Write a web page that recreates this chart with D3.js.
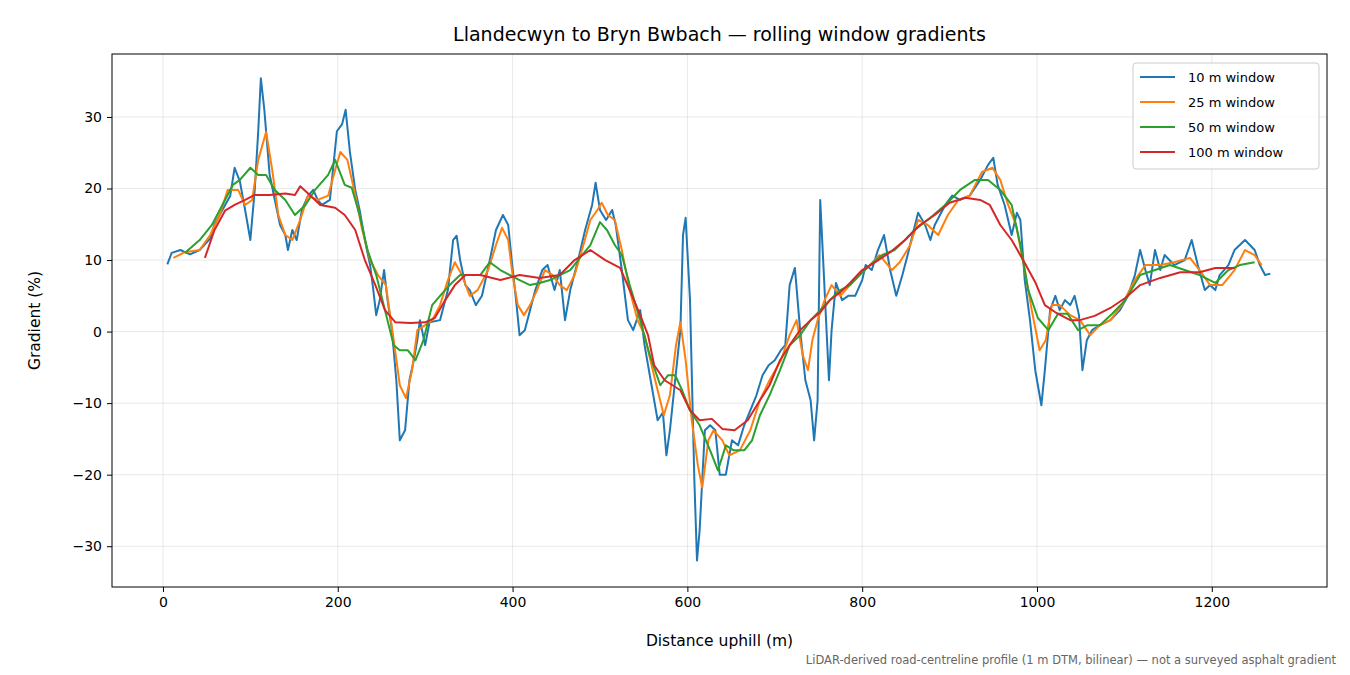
<!DOCTYPE html>
<html>
<head>
<meta charset="utf-8">
<script src="https://cdn.jsdelivr.net/npm/d3@7"></script>
<style>
  body { margin: 0; background: #fff; }
  svg { font-family: "DejaVu Sans", sans-serif; }
</style>
</head>
<body>
<svg id="chart" width="1350" height="675"></svg>
<script>
// gradient (%) against distance uphill (m), one array per rolling window
var win10 = [[5,9.4],[10,11],[20,11.4],[31,10.8],[42,11.4],[54,13],[59,15],[68,17],[77,19],[82,22.9],[88,21],[94,17],[100,12.8],[105,19.8],[109,28],[112,35.4],[116,31],[120,25],[122,22],[128,18.4],[134,14.9],[140,13.5],[143,11.4],[148,14.2],[153,12.8],[159,17],[166,19],[172,19.8],[177,18.4],[182,17.7],[191,18.4],[199,28],[205,29],[209,31],[214,25],[220,19.8],[225,17],[231,12.8],[237,9.3],[240,6.5],[244,2.3],[248,4.4],[253,8.6],[257,4.4],[262,0.2],[267,-6.8],[271,-15.2],[277,-13.8],[282,-6.8],[287,-4],[291,-1.2],[294,1.6],[300,-1.9],[305,1.3],[317,1.6],[326,5.8],[332,12.8],[336,13.4],[340,10],[346,6.5],[351,5.8],[358,3.7],[365,5],[374,10],[381,14.2],[389,16.3],[395,14.9],[399,10],[404,4.4],[408,-0.5],[414,0.2],[420,3],[426,5.8],[434,8.6],[440,9.3],[448,5.8],[454,8.6],[460,1.6],[466,5.8],[475,10],[483,14.2],[491,17.7],[495,20.8],[500,17],[507,15.6],[514,17],[518,14.9],[525,8.6],[532,1.6],[538,0.2],[546,3],[551,-1.9],[559,-7.5],[566,-12.4],[572,-11.3],[576,-17.3],[580,-13.8],[586,-6.8],[592,0.2],[595,13.5],[598,15.9],[603,4.4],[608,-20.8],[611,-32],[614,-27.8],[620,-13.8],[626,-13.1],[632,-13.8],[637,-20],[644,-20],[651,-15.2],[658,-15.9],[665,-13.1],[672,-11],[679,-8.9],[686,-6.1],[693,-4.7],[700,-4],[707,-2.6],[712,-1.9],[717,6.5],[723,8.9],[729,0.2],[735,-6.8],[741,-9.6],[745,-15.2],[749,-9.6],[752,18.4],[757,5.8],[762,-6.8],[765,0.2],[770,6.8],[777,4.4],[784,5],[792,5],[800,7.2],[804,9.3],[811,8.6],[818,11.4],[825,13.5],[832,8.6],[839,5],[846,7.9],[852,10.7],[859,14.2],[864,16.6],[872,14.9],[878,12.8],[883,14.9],[889,16.3],[895,17.7],[903,19],[912,18.4],[923,19],[935,21.2],[944,23.3],[950,24.3],[955,20.5],[963,17.7],[971,13.5],[977,16.6],[981,15.6],[986,7.2],[992,1.6],[998,-5.4],[1005,-10.3],[1009,-5.4],[1015,3],[1021,5],[1026,3],[1032,4.4],[1038,3.7],[1043,5],[1048,2.3],[1052,-5.4],[1057,-1.2],[1063,0.2],[1072,0.9],[1084,1.6],[1095,3],[1104,5],[1112,7.9],[1118,11.4],[1124,8.6],[1129,6.5],[1135,11.4],[1141,8.6],[1146,10.7],[1157,9.3],[1169,10],[1177,12.8],[1184,9.3],[1192,5.8],[1198,6.5],[1204,5.8],[1209,7.9],[1219,9.3],[1226,11.4],[1238,12.8],[1249,11.4],[1255,9.3],[1261,7.9],[1267,8.1]];

var win25 = [[12,10.3],[25,11.1],[42,11.4],[54,13.5],[65,16.3],[74,19.8],[86,19.8],[94,17.7],[102,18.4],[109,24],[118,27.9],[125,22.6],[132,16.3],[140,13.5],[148,12.8],[157,15.6],[166,19],[177,18.4],[189,19],[197,22.6],[203,25.1],[211,24],[220,19.1],[228,14.2],[237,10],[246,7.9],[255,6.5],[264,-1.2],[271,-7.5],[278,-9.3],[285,-5.4],[291,0.2],[300,0.9],[308,1.6],[317,3.7],[326,7.2],[334,9.7],[342,7.9],[351,5],[360,5.8],[372,8.6],[381,12.1],[388,14.5],[395,12.8],[400,7.9],[406,3.7],[413,2.3],[420,3.7],[428,5.8],[437,8.6],[446,7.9],[454,6.5],[462,5.8],[471,7.9],[481,12.1],[489,15.6],[497,17],[502,18],[509,16.3],[517,15.6],[525,11.4],[534,5.8],[543,1.6],[551,-0.5],[559,-4.7],[566,-8.2],[573,-11.7],[580,-8.9],[587,-1.9],[592,1.3],[598,-4],[605,-12.4],[612,-18.7],[617,-21.8],[624,-15.2],[630,-13.8],[640,-15.2],[648,-17.3],[660,-16.6],[672,-13.8],[683,-9.6],[694,-6.8],[707,-4],[717,-0.5],[725,1.6],[732,-3.3],[738,-5.4],[743,-1.2],[749,1.6],[757,4.4],[765,6.5],[775,5],[786,6.5],[797,7.9],[809,9.3],[820,10.7],[834,8.6],[843,9.7],[855,12.1],[864,15.6],[875,14.9],[887,13.5],[898,16.3],[910,18.4],[923,19],[937,22.3],[949,22.9],[958,21.2],[967,17.7],[976,14.9],[986,8.6],[994,3],[1003,-2.6],[1010,-1.2],[1017,3.7],[1026,3.7],[1038,2.3],[1049,1.6],[1061,-0.5],[1072,0.9],[1084,1.6],[1097,3.7],[1112,7.2],[1124,9.3],[1141,9.3],[1157,9.7],[1175,10.3],[1186,8.6],[1198,6.5],[1212,6.5],[1226,8.6],[1238,11.4],[1249,10.7],[1257,9.3]];

var win50 = [[25,11],[42,12.8],[56,14.9],[68,17.7],[80,20.5],[88,21.2],[100,22.9],[109,21.9],[118,21.9],[128,19.8],[140,18.4],[151,16.3],[163,17.7],[174,19.8],[189,21.9],[197,24],[208,20.5],[216,20.1],[225,16.3],[234,11.4],[244,7.9],[254,3],[264,-1.9],[271,-2.6],[280,-2.6],[289,-4],[298,-1.2],[308,3.7],[317,5],[328,6.5],[340,7.9],[351,7.9],[363,7.9],[374,9.7],[386,8.6],[397,7.9],[408,7.2],[420,6.5],[431,6.8],[443,7.2],[454,7.9],[466,8.6],[477,10.3],[489,12.1],[500,15.3],[508,14.2],[517,12.1],[525,10.7],[534,6.5],[546,1.6],[557,-3.3],[569,-7.5],[578,-6.1],[586,-6.1],[594,-8.2],[603,-11],[614,-13.1],[626,-16.6],[635,-19.4],[644,-15.9],[653,-16.6],[665,-16.6],[674,-15.2],[683,-11.7],[694,-8.9],[706,-5.4],[717,-1.9],[729,-0.5],[741,1.6],[752,3],[763,4.4],[775,5.8],[786,6.5],[797,7.9],[809,9.3],[823,10.7],[837,11.4],[849,12.8],[860,14.2],[878,15.9],[895,17.7],[912,19.8],[929,21.2],[944,21.2],[958,19.8],[971,17.7],[981,12.1],[990,5.8],[1001,1.9],[1013,0.2],[1024,2.5],[1035,2.5],[1047,0.2],[1058,0.9],[1072,0.9],[1086,2.5],[1101,4.4],[1118,7.9],[1135,8.6],[1152,9.3],[1169,8.6],[1186,7.9],[1204,6.8],[1219,8.6],[1232,9.3],[1249,9.7]];

var win100 = [[48,10.3],[59,14.2],[71,16.9],[82,17.7],[94,18.4],[105,19.1],[122,19.1],[140,19.3],[151,19.1],[157,20.3],[168,19.1],[180,17.7],[197,17.3],[208,16.3],[220,14.2],[231,10],[243,6.5],[254,3],[266,1.3],[283,1.2],[300,1.3],[311,1.9],[323,4.4],[334,6.5],[346,7.9],[363,7.9],[386,7.2],[408,7.9],[431,7.5],[454,7.9],[471,10],[489,11.4],[506,10],[523,8.9],[534,5.8],[546,2.3],[555,-0.5],[562,-4.7],[574,-6.8],[592,-8.2],[603,-11],[614,-12.4],[628,-12.2],[640,-13.6],[654,-13.8],[669,-12.4],[683,-9.6],[694,-7.5],[706,-4],[717,-1.9],[729,0.2],[741,1.6],[752,2.7],[763,4.4],[775,5.5],[786,6.8],[800,8.6],[815,9.7],[832,11.1],[849,12.8],[866,14.9],[883,16.3],[900,18],[918,18.7],[935,18.4],[946,17.7],[958,14.9],[971,12.8],[986,9.6],[998,6.9],[1009,3.7],[1021,2.7],[1038,1.6],[1049,1.6],[1066,2.2],[1084,3.3],[1101,4.7],[1118,6.5],[1141,7.5],[1164,8.3],[1186,8.3],[1204,8.9],[1226,8.9]];

var seriesNames = ["10 m window", "25 m window", "50 m window", "100 m window"];
var seriesColors = ["#1f77b4", "#ff7f0e", "#2ca02c", "#d62728"];
var allSeries = [win10, win25, win50, win100];

var xTicks = [0, 200, 400, 600, 800, 1000, 1200];
var yTicks = [-30, -20, -10, 0, 10, 20, 30];

var mLeft = 112, mRight = 1327, mTop = 54, mBottom = 587;
var svg = d3.select("#chart");

var x = d3.scaleLinear().domain([-58.3, 1331.8]).range([mLeft, mRight]);
var y = d3.scaleLinear().domain([-35.7, 38.8]).range([mBottom, mTop]);

// grid
svg.append("g").selectAll("line").data(xTicks).enter().append("line")
    .attr("x1", d => x(d)).attr("x2", d => x(d))
    .attr("y1", mTop).attr("y2", mBottom)
    .attr("stroke", "#b0b0b0").attr("stroke-opacity", 0.35).attr("stroke-width", 0.8);
svg.append("g").selectAll("line").data(yTicks).enter().append("line")
    .attr("x1", mLeft).attr("x2", mRight)
    .attr("y1", d => y(d)).attr("y2", d => y(d))
    .attr("stroke", "#b0b0b0").attr("stroke-opacity", 0.35).attr("stroke-width", 0.8);

// lines
var line = d3.line().x(d => x(d[0])).y(d => y(d[1]));
allSeries.forEach(function(s, i) {
    svg.append("path").datum(s)
        .attr("d", line)
        .attr("fill", "none")
        .attr("stroke", seriesColors[i])
        .attr("stroke-width", 2)
        .attr("stroke-linejoin", "round");
});

// axes
var xAxis = svg.append("g").attr("transform", "translate(0," + mBottom + ")")
    .call(d3.axisBottom(x).tickValues(xTicks).tickSize(5).tickPadding(5).tickFormat(d3.format("d")));
var yAxis = svg.append("g").attr("transform", "translate(" + mLeft + ",0)")
    .call(d3.axisLeft(y).tickValues(yTicks).tickSize(5).tickPadding(5)
        .tickFormat(d => d < 0 ? "\u2212" + Math.abs(d) : d));
[xAxis, yAxis].forEach(function(a) {
    a.selectAll("text").attr("font-size", 14).attr("fill", "#000").attr("font-family", "DejaVu Sans");
    a.selectAll("line").attr("stroke", "#000");
    a.select(".domain").remove();
});

svg.append("rect").attr("x", mLeft).attr("y", mTop)
    .attr("width", mRight - mLeft).attr("height", mBottom - mTop)
    .attr("fill", "none").attr("stroke", "#000").attr("stroke-width", 1);

// labels
svg.append("text").attr("x", (mLeft + mRight) / 2).attr("y", 41)
    .attr("text-anchor", "middle").attr("font-size", 19)
    .text("Llandecwyn to Bryn Bwbach \u2014 rolling window gradients");
svg.append("text").attr("x", (mLeft + mRight) / 2).attr("y", 646)
    .attr("text-anchor", "middle").attr("font-size", 15.5)
    .text("Distance uphill (m)");
svg.append("text").attr("transform", "translate(40," + (mTop + mBottom) / 2 + ") rotate(-90)")
    .attr("text-anchor", "middle").attr("font-size", 15.5)
    .text("Gradient (%)");
svg.append("text").attr("x", 1336).attr("y", 664)
    .attr("text-anchor", "end").attr("font-size", 11.5).attr("fill", "#666")
    .text("LiDAR-derived road-centreline profile (1 m DTM, bilinear) \u2014 not a surveyed asphalt gradient");

// legend
var lg = svg.append("g").attr("transform", "translate(1133,63)");
lg.append("rect").attr("width", 186).attr("height", 106).attr("rx", 3)
    .attr("fill", "#fff").attr("fill-opacity", 0.8).attr("stroke", "#ccc");
seriesNames.forEach(function(n, i) {
    var yy = 14 + i * 25;
    lg.append("line").attr("x1", 7).attr("x2", 42).attr("y1", yy).attr("y2", yy)
        .attr("stroke", seriesColors[i]).attr("stroke-width", 2);
    lg.append("text").attr("x", 55).attr("y", yy + 4.5).attr("font-size", 13).text(n);
});
</script>
</body>
</html>
